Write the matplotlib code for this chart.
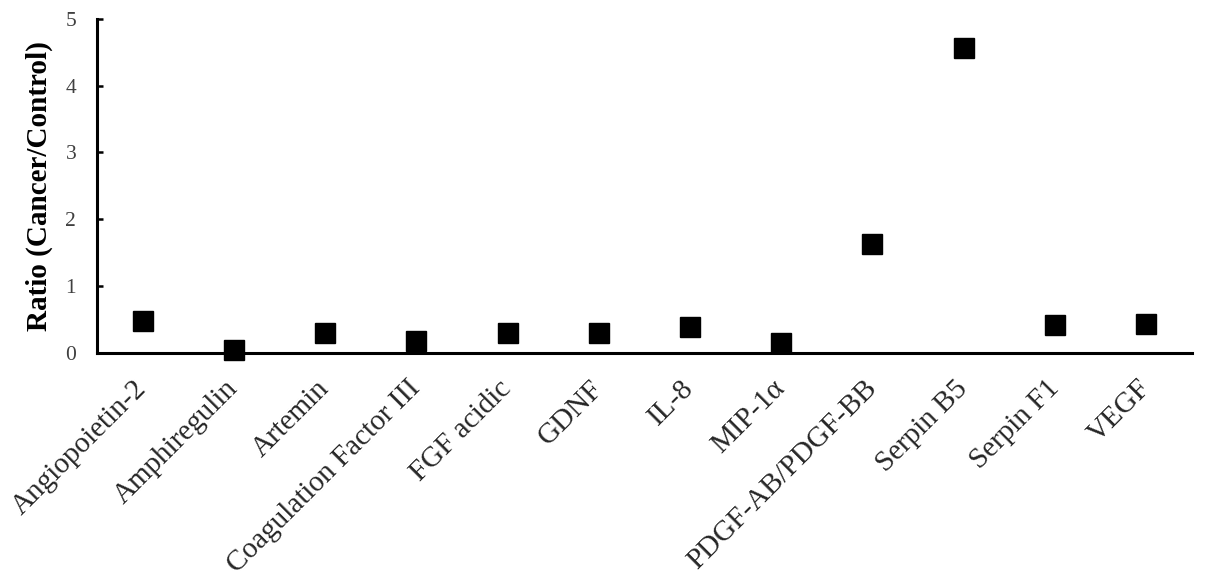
import matplotlib
matplotlib.use("Agg")
import matplotlib.pyplot as plt

categories = ["Angiopoietin-2", "Amphiregulin", "Artemin", "Coagulation Factor III",
              "FGF acidic", "GDNF", "IL-8", "MIP-1α", "PDGF-AB/PDGF-BB",
              "Serpin B5", "Serpin F1", "VEGF"]
ratios = [0.47, 0.04, 0.30, 0.18, 0.30, 0.29, 0.39, 0.15, 1.63, 4.56, 0.41, 0.43]
yticks = [0, 1, 2, 3, 4, 5]

plt.rcParams['font.family'] = ['Liberation Serif', 'DejaVu Serif']

fig = plt.figure(figsize=(12.05, 5.88), dpi=100)
ax = fig.add_axes([0.0805, 0.4002, 0.9085, 0.5678])

x = list(range(len(categories)))
ax.plot(x, ratios, linestyle='none', marker='s', markersize=14, color='black',
        clip_on=False, zorder=3)

ax.set_xlim(-0.5, len(categories) - 0.5)
ax.set_ylim(0, 5)
ax.set_yticks(yticks)
ax.set_yticklabels([str(t) for t in yticks], fontsize=15.5, color='#404040')
ax.set_xticks(x)
ax.set_xticklabels(categories, rotation=45, ha='right', va='center',
                   rotation_mode='anchor', fontsize=21, color='#262626')
ax.tick_params(axis='x', length=0, pad=23)
ax.tick_params(axis='y', direction='in', length=4, width=1.8, pad=15)

for s in ['top', 'right']:
    ax.spines[s].set_visible(False)
for s in ['left', 'bottom']:
    ax.spines[s].set_linewidth(2.2)
    ax.spines[s].set_color('black')

ax.set_ylabel("Ratio (Cancer/Control)", fontsize=21, fontweight='bold')
ax.yaxis.set_label_coords(-0.040, 0.5)

fig.savefig("out.png", dpi=100)
